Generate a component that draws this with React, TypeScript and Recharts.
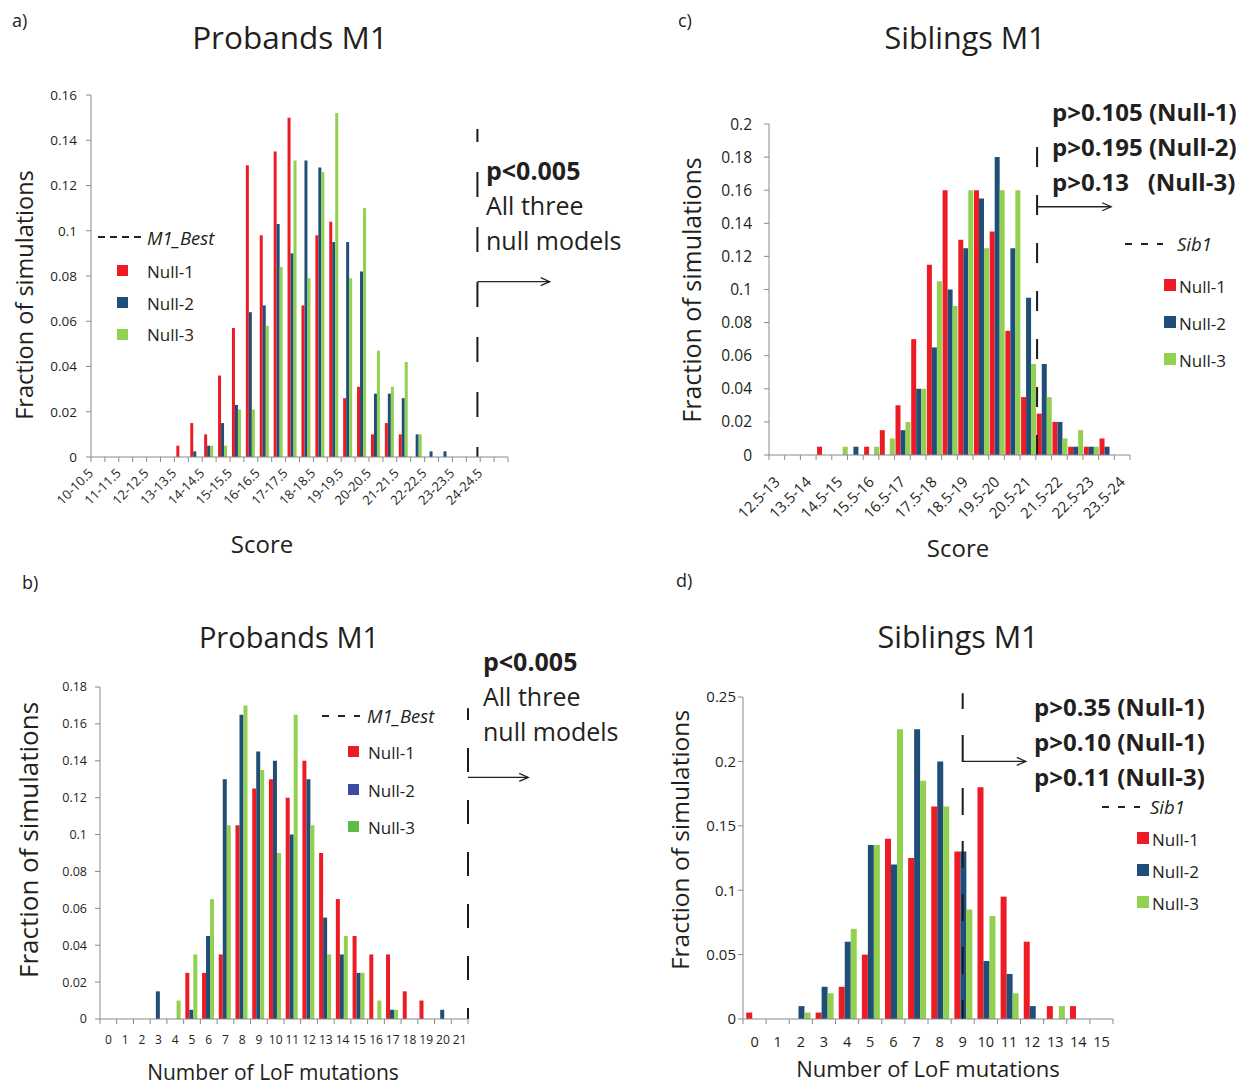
import React from "react";
import { BarChart, Bar, XAxis, YAxis, ReferenceLine } from "recharts";

const FONT = '"Open Sans", "Noto Sans", sans-serif';
const INK = "#231f20";
const AXIS = "#8a8a8a";
const RED = "#ed1c24";
const BLUE = "#1f4e79";
const GREEN = "#92d050";

// a) Probands M1, score bins
const probandScoreBins = [
  "10-10.5", "10.5-11", "11-11.5", "11.5-12", "12-12.5", "12.5-13", "13-13.5", "13.5-14", "14-14.5", "14.5-15",
  "15-15.5", "15.5-16", "16-16.5", "16.5-17", "17-17.5", "17.5-18", "18-18.5", "18.5-19", "19-19.5", "19.5-20",
  "20-20.5", "20.5-21", "21-21.5", "21.5-22", "22-22.5", "22.5-23", "23-23.5", "23.5-24", "24-24.5", "24.5-25",
];
const probandScoreNull1 = [0, 0, 0, 0, 0, 0, 0.005, 0.015, 0.01, 0.036, 0.057, 0.129, 0.098, 0.135, 0.15, 0.067, 0.098, 0.104, 0.026, 0.031, 0.01, 0.015, 0.01, 0, 0, 0, 0, 0, 0, 0];
const probandScoreNull2 = [0, 0, 0, 0, 0, 0, 0, 0.0025, 0.005, 0.015, 0.023, 0.064, 0.067, 0.103, 0.09, 0.131, 0.128, 0.095, 0.095, 0.082, 0.028, 0.028, 0.026, 0.01, 0.0025, 0.0025, 0, 0, 0, 0];
const probandScoreNull3 = [0, 0, 0, 0, 0, 0, 0, 0, 0.005, 0.005, 0.021, 0.021, 0.058, 0.084, 0.131, 0.079, 0.126, 0.152, 0.079, 0.11, 0.047, 0.031, 0.042, 0.01, 0, 0, 0, 0, 0, 0];
const probandScoreBest = 23.9;

// c) Siblings M1, score bins
const siblingScoreBins = [
  "12.5-13", "13-13.5", "13.5-14", "14-14.5", "14.5-15", "15-15.5", "15.5-16", "16-16.5", "16.5-17", "17-17.5",
  "17.5-18", "18-18.5", "18.5-19", "19-19.5", "19.5-20", "20-20.5", "20.5-21", "21-21.5", "21.5-22", "22-22.5",
  "22.5-23", "23-23.5", "23.5-24",
];
const siblingScoreNull1 = [0, 0, 0, 0.005, 0, 0, 0.005, 0.015, 0.03, 0.07, 0.115, 0.16, 0.13, 0.16, 0.135, 0.075, 0.035, 0.025, 0.02, 0.005, 0.005, 0.01, 0];
const siblingScoreNull2 = [0, 0, 0, 0, 0, 0.005, 0, 0, 0.015, 0.04, 0.065, 0.1, 0.125, 0.155, 0.18, 0.125, 0.095, 0.055, 0.02, 0.005, 0.005, 0.005, 0];
const siblingScoreNull3 = [0, 0, 0, 0, 0.005, 0, 0.005, 0.01, 0.02, 0.04, 0.105, 0.09, 0.16, 0.125, 0.16, 0.16, 0.055, 0.035, 0.01, 0.015, 0.005, 0, 0];
const siblingScoreBest = 21.04;

// b) Probands M1, LoF counts
const probandLofBins = ["0", "1", "2", "3", "4", "5", "6", "7", "8", "9", "10", "11", "12", "13", "14", "15", "16", "17", "18", "19", "20", "21"];
const probandLofNull1 = [0, 0, 0, 0, 0, 0.025, 0.025, 0.035, 0.105, 0.125, 0.13, 0.12, 0.14, 0.09, 0.065, 0.045, 0.035, 0.035, 0.015, 0.01, 0, 0];
const probandLofNull2 = [0, 0, 0, 0.015, 0, 0.005, 0.045, 0.13, 0.165, 0.145, 0.14, 0.1, 0.13, 0.055, 0.035, 0.025, 0, 0.005, 0, 0, 0.005, 0];
const probandLofNull3 = [0, 0, 0, 0, 0.01, 0.035, 0.065, 0.105, 0.17, 0.135, 0.09, 0.165, 0.105, 0.035, 0.045, 0.025, 0.01, 0.005, 0, 0, 0, 0];
const probandLofBest = 21.5;

// d) Siblings M1, LoF counts
const siblingLofBins = ["0", "1", "2", "3", "4", "5", "6", "7", "8", "9", "10", "11", "12", "13", "14", "15"];
const siblingLofNull1 = [0.005, 0, 0, 0.005, 0.025, 0.05, 0.14, 0.125, 0.165, 0.13, 0.18, 0.095, 0.06, 0.01, 0.01, 0];
const siblingLofNull2 = [0, 0, 0.01, 0.025, 0.06, 0.135, 0.12, 0.225, 0.2, 0.13, 0.045, 0.035, 0.01, 0, 0, 0];
const siblingLofNull3 = [0, 0, 0.005, 0.02, 0.07, 0.135, 0.225, 0.185, 0.165, 0.085, 0.08, 0.02, 0, 0.01, 0, 0];
const siblingLofBest = 9;

const ticksA = [0, 0.02, 0.04, 0.06, 0.08, 0.1, 0.12, 0.14, 0.16];
const ticksC = [0, 0.02, 0.04, 0.06, 0.08, 0.1, 0.12, 0.14, 0.16, 0.18, 0.2];
const ticksB = [0, 0.02, 0.04, 0.06, 0.08, 0.1, 0.12, 0.14, 0.16, 0.18];
const ticksD = [0, 0.05, 0.1, 0.15, 0.2, 0.25];

// lo = numeric start of the bin, used by the hidden value axis
const rows = (bins: string[], n1: number[], n2: number[], n3: number[]) =>
  bins.map((bin, i) => ({ bin, lo: parseFloat(bin), null1: n1[i], null2: n2[i], null3: n3[i] }));

const fmt = (v: number) => String(+v.toFixed(2));

// category axis tick: boundary tick marks plus a label (rotated or flat)
function makeTick(band: number, count: number, size: number, every: number, rotated: boolean, dx: number, dy: number) {
  return (props: any) => {
    const { x, y, payload, index } = props;
    const l = x - band / 2;
    const r = x + band / 2;
    const tx = x + dx;
    const ty = y + dy;
    return (
      <g>
        <line x1={l} y1={y} x2={l} y2={y + 5} stroke={AXIS} />
        {index === count - 1 && <line x1={r} y1={y} x2={r} y2={y + 5} stroke={AXIS} />}
        {index % every === 0 &&
          (rotated ? (
            <text x={tx} y={ty} transform={`rotate(-45 ${tx} ${ty})`} textAnchor="end" fontSize={size} fill={INK} fontFamily={FONT}>
              {payload.value}
            </text>
          ) : (
            <text x={tx} y={ty} textAnchor="middle" fontSize={size} fill={INK} fontFamily={FONT}>
              {payload.value}
            </text>
          ))}
      </g>
    );
  };
}

const arrowShape = (p: any) => (
  <g>
    <line x1={p.x1} y1={p.y1} x2={p.x2} y2={p.y2} stroke="#222" strokeWidth={1.3} />
    <path d={`M${p.x2 - 9},${p.y2 - 4} L${p.x2},${p.y2} L${p.x2 - 9},${p.y2 + 4}`} fill="none" stroke="#222" strokeWidth={1.3} />
  </g>
);

type PanelProps = {
  left: number;
  top: number;
  width: number;
  height: number;
  margin: { top: number; right: number; bottom: number; left: number };
  data: any[];
  yTicks: number[];
  yFont: number;
  yGap: number;
  xHeight: number;
  tick: (p: any) => React.ReactElement;
  span: [number, number];
  best: number;
  bestTop: number;
  dash: string;
  dashOffset: number;
  arrowY: number;
  arrowTo: number;
  gap: string;
};

function Panel(p: PanelProps) {
  return (
    <div style={{ position: "absolute", left: p.left, top: p.top }}>
      <BarChart width={p.width} height={p.height} data={p.data} margin={p.margin} barCategoryGap={p.gap} barGap={0}>
        <XAxis
          dataKey="bin"
          interval={0}
          height={p.xHeight}
          stroke={AXIS}
          tickLine={false}
          tickSize={0}
          tickMargin={0}
          tick={p.tick}
        />
        <XAxis xAxisId="s" dataKey="lo" type="number" domain={p.span} allowDataOverflow hide />
        <YAxis
          width={50}
          domain={[0, p.yTicks[p.yTicks.length - 1]]}
          ticks={p.yTicks}
          interval={0}
          tickFormatter={fmt}
          stroke={AXIS}
          tickSize={5}
          tickMargin={p.yGap}
          tick={{ fontSize: p.yFont, fill: INK, fontFamily: FONT }}
        />
        <Bar dataKey="null1" fill={RED} isAnimationActive={false} />
        <Bar dataKey="null2" fill={BLUE} isAnimationActive={false} />
        <Bar dataKey="null3" fill={GREEN} isAnimationActive={false} />
        <ReferenceLine
          xAxisId="s"
          segment={[{ x: p.best, y: 0 }, { x: p.best, y: p.bestTop }]}
          stroke="#1a1a1a"
          strokeWidth={2}
          strokeDasharray={p.dash}
          strokeDashoffset={p.dashOffset}
          ifOverflow="visible"
        />
        <ReferenceLine
          xAxisId="s"
          segment={[{ x: p.best, y: p.arrowY }, { x: p.arrowTo, y: p.arrowY }]}
          ifOverflow="visible"
          shape={arrowShape}
        />
      </BarChart>
    </div>
  );
}

type TxtProps = {
  x: number;
  y: number;
  size: number;
  children: React.ReactNode;
  bold?: boolean;
  italic?: boolean;
  center?: boolean;
  vertical?: boolean;
};

function Txt({ x, y, size, children, bold, italic, center, vertical }: TxtProps) {
  const shift = center || vertical ? "translate(-50%, -50%)" : "translate(0, -50%)";
  return (
    <div
      style={{
        position: "absolute",
        left: x,
        top: y,
        transform: vertical ? `${shift} rotate(-90deg)` : shift,
        fontSize: size,
        fontWeight: bold ? 700 : 400,
        fontStyle: italic ? "italic" : "normal",
        whiteSpace: "pre",
        lineHeight: 1,
        color: INK,
      }}
    >
      {children}
    </div>
  );
}

function Dash({ x, y, w, pattern }: { x: number; y: number; w: number; pattern: string }) {
  return (
    <svg style={{ position: "absolute", left: x, top: y - 2 }} width={w} height={4}>
      <line x1={0} y1={2} x2={w} y2={2} stroke="#222" strokeWidth={2} strokeDasharray={pattern} />
    </svg>
  );
}

function Swatch({ x, y, s, color }: { x: number; y: number; s: number; color: string }) {
  return <div style={{ position: "absolute", left: x, top: y - s / 2, width: s, height: s, background: color }} />;
}

export default function App() {
  return (
    <div style={{ position: "absolute", left: 0, top: 0, width: 1245, height: 1084, background: "#fff", fontFamily: FONT, overflow: "hidden" }}>
      <Panel
        left={0}
        top={0}
        width={640}
        height={580}
        margin={{ top: 95, right: 132, bottom: 43, left: 41 }}
        data={rows(probandScoreBins, probandScoreNull1, probandScoreNull2, probandScoreNull3)}
        yTicks={ticksA}
        yFont={13.5}
        yGap={9}
        xHeight={80}
        tick={makeTick(417 / 30, 30, 13, 2, true, -4, 17)}
        span={[10, 25]}
        best={probandScoreBest}
        bestTop={0.145}
        dash="25 30"
        dashOffset={15}
        arrowY={0.0775}
        arrowTo={26.5}
        gap="14%"
      />
      <Panel
        left={640}
        top={0}
        width={605}
        height={580}
        margin={{ top: 124, right: 115, bottom: 45, left: 79 }}
        data={rows(siblingScoreBins, siblingScoreNull1, siblingScoreNull2, siblingScoreNull3)}
        yTicks={ticksC}
        yFont={15.5}
        yGap={12}
        xHeight={80}
        tick={makeTick(361 / 23, 23, 15, 2, true, 4, 28)}
        span={[12.5, 24]}
        best={siblingScoreBest}
        bestTop={0.2}
        dash="20 28"
        dashOffset={0}
        arrowY={0.15}
        arrowTo={23.4}
        gap="6%"
      />
      <Panel
        left={0}
        top={580}
        width={640}
        height={504}
        margin={{ top: 107, right: 172, bottom: 35, left: 50 }}
        data={rows(probandLofBins, probandLofNull1, probandLofNull2, probandLofNull3)}
        yTicks={ticksB}
        yFont={12.5}
        yGap={8}
        xHeight={30}
        tick={makeTick(368 / 22, 22, 12, 1, false, 0, 25)}
        span={[-0.5, 21.5]}
        best={probandLofBest}
        bestTop={0.1685}
        dash="24 28"
        dashOffset={13}
        arrowY={0.131}
        arrowTo={25.1}
        gap="10%"
      />
      <Panel
        left={640}
        top={580}
        width={605}
        height={504}
        margin={{ top: 117, right: 132, bottom: 35, left: 53 }}
        data={rows(siblingLofBins, siblingLofNull1, siblingLofNull2, siblingLofNull3)}
        yTicks={ticksD}
        yFont={15}
        yGap={2}
        xHeight={30}
        tick={makeTick(370 / 16, 16, 14.5, 1, false, 0, 28)}
        span={[-0.5, 15.5]}
        best={siblingLofBest}
        bestTop={0.253}
        dash="27 26"
        dashOffset={8}
        arrowY={0.2}
        arrowTo={11.73}
        gap="14%"
      />

      {/* a) */}
      <Txt x={12} y={20} size={18}>a)</Txt>
      <Txt x={290} y={37} size={31.5} center>Probands M1</Txt>
      <Txt x={25} y={295} size={23.5} vertical>Fraction of simulations</Txt>
      <Txt x={262} y={544} size={24} center>Score</Txt>
      <Dash x={98} y={237} w={44} pattern="7 5" />
      <Txt x={147} y={238} size={18.5} italic>M1_Best</Txt>
      <Swatch x={117} y={270} s={11} color={RED} />
      <Txt x={147} y={271} size={17}>Null-1</Txt>
      <Swatch x={117} y={302} s={11} color={BLUE} />
      <Txt x={147} y={303} size={17}>Null-2</Txt>
      <Swatch x={117} y={334} s={11} color={GREEN} />
      <Txt x={147} y={334} size={17}>Null-3</Txt>
      <Txt x={486} y={170} size={25} bold>p&lt;0.005</Txt>
      <Txt x={486} y={205} size={25}>All three</Txt>
      <Txt x={486} y={240} size={25}>null models</Txt>

      {/* c) */}
      <Txt x={678} y={20} size={18}>c)</Txt>
      <Txt x={965} y={37} size={30.5} center>Siblings M1</Txt>
      <Txt x={691} y={290} size={25} vertical>Fraction of simulations</Txt>
      <Txt x={958} y={548} size={24} center>Score</Txt>
      <Txt x={1052} y={112} size={24} bold>p&gt;0.105 (Null-1)</Txt>
      <Txt x={1052} y={147} size={24} bold>p&gt;0.195 (Null-2)</Txt>
      <Txt x={1052} y={182} size={24} bold>{"p>0.13   (Null-3)"}</Txt>
      <Dash x={1125} y={244} w={38} pattern="7 9" />
      <Txt x={1177} y={244} size={18.5} italic>Sib1</Txt>
      <Swatch x={1164} y={285} s={12} color={RED} />
      <Txt x={1179} y={286} size={17}>Null-1</Txt>
      <Swatch x={1164} y={322} s={12} color={BLUE} />
      <Txt x={1179} y={323} size={17}>Null-2</Txt>
      <Swatch x={1164} y={359} s={12} color={GREEN} />
      <Txt x={1179} y={360} size={17}>Null-3</Txt>

      {/* b) */}
      <Txt x={22} y={582} size={18}>b)</Txt>
      <Txt x={289} y={636} size={29} center>Probands M1</Txt>
      <Txt x={28} y={840} size={26} vertical>Fraction of simulations</Txt>
      <Txt x={273} y={1072} size={21} center>Number of LoF mutations</Txt>
      <Dash x={322} y={716} w={38} pattern="7 9" />
      <Txt x={367} y={716} size={18.5} italic>M1_Best</Txt>
      <Swatch x={348} y={751} s={11} color={RED} />
      <Txt x={368} y={752} size={17}>Null-1</Txt>
      <Swatch x={348} y={789} s={11} color="#3b4ba3" />
      <Txt x={368} y={790} size={17}>Null-2</Txt>
      <Swatch x={348} y={826} s={11} color="#5fba46" />
      <Txt x={368} y={827} size={17}>Null-3</Txt>
      <Txt x={483} y={661} size={25} bold>p&lt;0.005</Txt>
      <Txt x={483} y={696} size={25}>All three</Txt>
      <Txt x={483} y={731} size={25}>null models</Txt>

      {/* d) */}
      <Txt x={676} y={580} size={18}>d)</Txt>
      <Txt x={958} y={636} size={30.5} center>Siblings M1</Txt>
      <Txt x={680} y={840} size={24.5} vertical>Fraction of simulations</Txt>
      <Txt x={928} y={1068} size={22} center>Number of LoF mutations</Txt>
      <Txt x={1034} y={707} size={24} bold>p&gt;0.35 (Null-1)</Txt>
      <Txt x={1034} y={742} size={24} bold>p&gt;0.10 (Null-1)</Txt>
      <Txt x={1034} y={777} size={24} bold>p&gt;0.11 (Null-3)</Txt>
      <Dash x={1102} y={807} w={38} pattern="7 9" />
      <Txt x={1150} y={807} size={18.5} italic>Sib1</Txt>
      <Swatch x={1137} y={838} s={12} color={RED} />
      <Txt x={1152} y={839} size={17}>Null-1</Txt>
      <Swatch x={1137} y={870} s={12} color={BLUE} />
      <Txt x={1152} y={871} size={17}>Null-2</Txt>
      <Swatch x={1137} y={902} s={12} color={GREEN} />
      <Txt x={1152} y={903} size={17}>Null-3</Txt>
    </div>
  );
}
